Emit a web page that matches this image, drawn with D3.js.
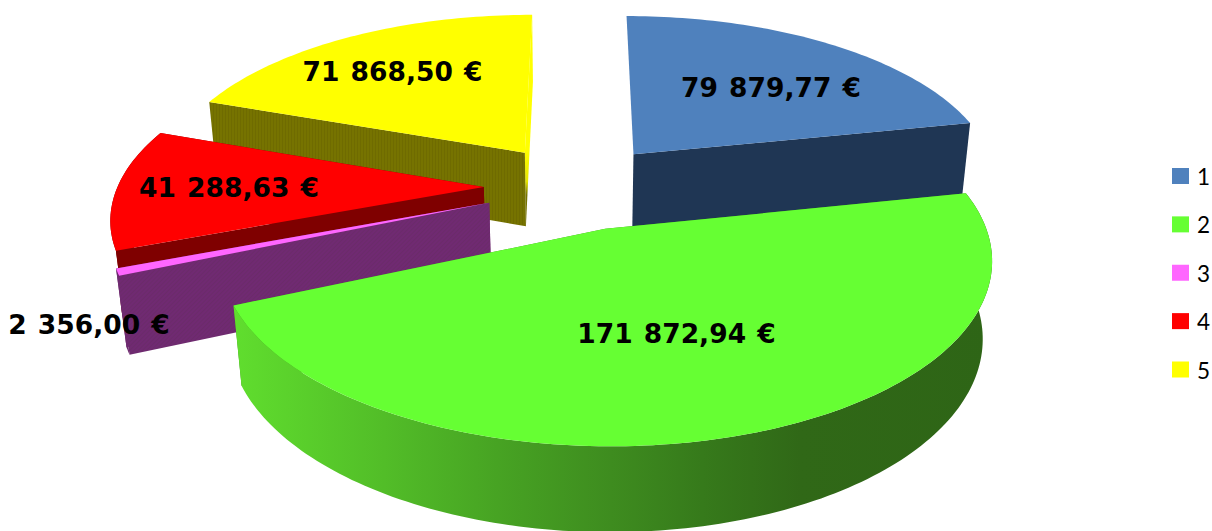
<!DOCTYPE html>
<html><head><meta charset="utf-8">
<script src="https://cdn.jsdelivr.net/npm/d3@7"></script>
<style>html,body{margin:0;background:#fff}svg{display:block}</style></head><body>
<svg id="c" width="1212" height="531"></svg>
<script>
const categories=["1","2","3","4","5"];
const values=[79879.77,171872.94,2356.00,41288.63,71868.50];
const topColors=["#4f81bd","#66ff33","#ff66ff","#ff0000","#ffff00"];
const sideColors=["#1f3654","#3f8f1f","url(#purple)","#7f0000","url(#olive)"];

// Perspective camera for the exploded 3D pie (ground plane -> screen)
const cam={cx:576.53,cy:186.47,rx:366.33,ry:168.84,h:.1553,k:.0216,d:76.8,explode:.253,rot:.0304,sx:-10.5,sy:-5.01,g:.004};
const labelAnchors=[[771,97],[676.5,343],[89,334],[229,197],[392.5,81]];
const paintOrder=[4,0,3,2,1];

const pie=d3.pie().sort(null)(values);
const euro=d3.formatLocale({decimal:",",thousands:" ",grouping:[3],currency:["","€"]}).format(",.2f");
function project(i,t,r,z){
  const a=pie[i],m=(a.startAngle+a.endAngle)/2+cam.rot;
  const X=cam.explode*Math.sin(m)+r*Math.sin(t+cam.rot),Y=cam.explode*Math.cos(m)+r*Math.cos(t+cam.rot);
  const w=1+cam.h*Y+cam.k*z+cam.g*X;
  return [cam.cx+(cam.rx*X+cam.sx*Y)/w,cam.cy+(-cam.ry*Y+cam.sy*X+cam.d*z)/w];
}
function rim(i,z){
  const a=pie[i],n=Math.max(8,Math.round((a.endAngle-a.startAngle)*50));
  return d3.range(n+1).map(j=>project(i,a.startAngle+(a.endAngle-a.startAngle)*j/n,1,z));
}
const svg=d3.select("#c"),defs=svg.append("defs"),line=d3.line();

function stripes(id,c1,c2,rot){
  const p=defs.append("pattern").attr("id",id).attr("patternUnits","userSpaceOnUse").attr("width",3).attr("height",3).attr("patternTransform",`rotate(${rot})`);
  p.append("rect").attr("width",3).attr("height",3).attr("fill",c1);
  p.append("rect").attr("width",1).attr("height",3).attr("fill",c2);
}
stripes("olive","#767300","#6f6b00",0);
stripes("purple","#702a72","#6b2b6a",45);
const gx=defs.append("linearGradient").attr("id","greenWall").attr("gradientUnits","userSpaceOnUse").attr("x1",233).attr("x2",990).attr("y1",0).attr("y2",0);
[[0,"#60de2e"],[.2,"#52bd28"],[.35,"#47a323"],[.5,"#3e8c1f"],[.62,"#367a1b"],[.75,"#306817"],[1,"#2e6516"]].forEach(s=>gx.append("stop").attr("offset",s[0]).attr("stop-color",s[1]));
const gy=defs.append("linearGradient").attr("id","yellowEdge").attr("gradientUnits","userSpaceOnUse").attr("x1",0).attr("x2",0).attr("y1",150).attr("y2",195);
[[0,"#ffff00"],[.7,"#e6e600"],[1,"#767300"]].forEach(s=>gy.append("stop").attr("offset",s[0]).attr("stop-color",s[1]));

paintOrder.forEach(i=>{
  const A=project(i,0,0,0),B=project(i,0,0,1),t=rim(i,0),b=rim(i,1),g=svg.append("g");
  const endFill=i===4?"url(#yellowEdge)":sideColors[i];
  g.append("path").attr("d",line([A,t[t.length-1],b[b.length-1],B])+"Z").attr("fill",endFill);
  if(i!==0) g.append("path").attr("d",line([A,t[0],b[0],B])+"Z").attr("fill",sideColors[i]);
  if(i!==0&&i!==4) g.append("path").attr("d",line(t.concat(b.slice().reverse()))+"Z").attr("fill",i===1?"url(#greenWall)":sideColors[i]);
  g.append("path").attr("d",line([A].concat(t))+"Z").attr("fill",topColors[i]);
});

svg.append("g").selectAll("text").data(values).join("text")
  .attr("x",(d,i)=>labelAnchors[i][0]).attr("y",(d,i)=>labelAnchors[i][1])
  .attr("text-anchor","middle").attr("font-family","'DejaVu Sans',sans-serif").attr("font-weight","bold")
  .attr("font-size",26.5).attr("word-spacing",2).attr("fill","#000")
  .text(d=>euro(d)+" €");

const ly=d3.scalePoint().domain(categories).range([176,369.5]);
const leg=svg.append("g").selectAll("g").data(categories).join("g");
leg.append("rect").attr("x",1172).attr("y",d=>ly(d)-8).attr("width",17).attr("height",16).attr("fill",(d,i)=>topColors[i]);
leg.append("text").attr("x",1197).attr("y",d=>ly(d)+9).attr("font-family","Lato,sans-serif").attr("font-size",22.5).attr("fill","#000").text(d=>d);
</script></body></html>
